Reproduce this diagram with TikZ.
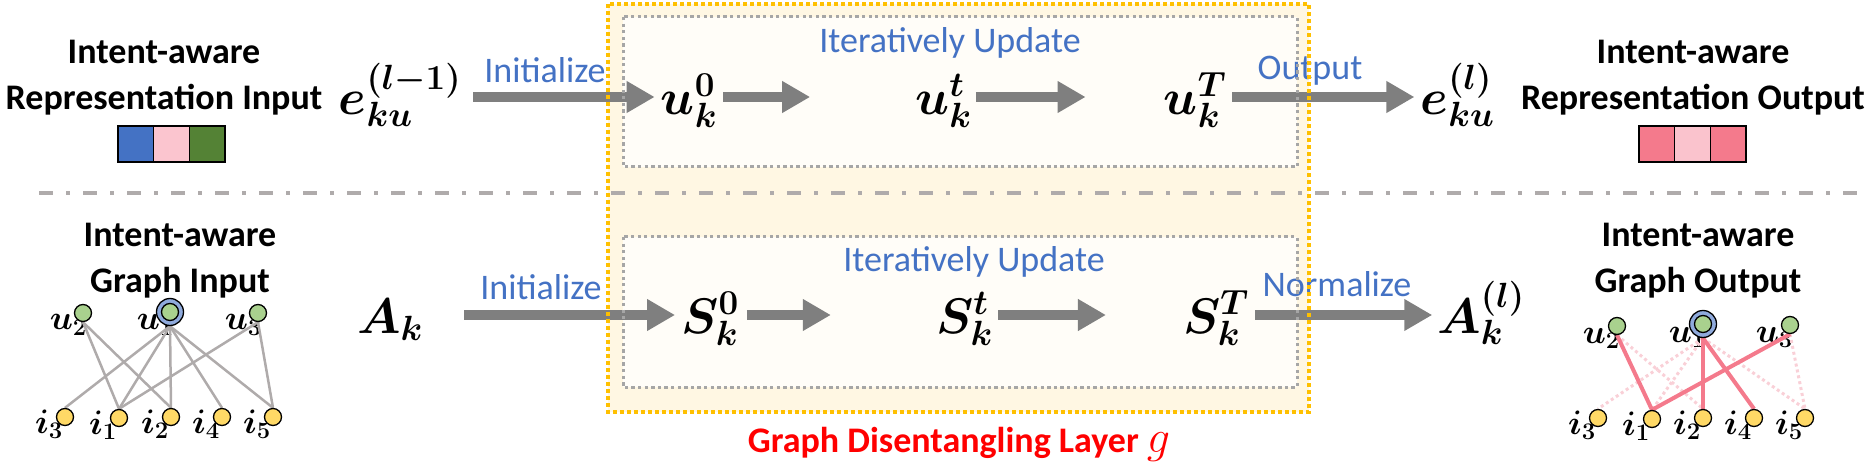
\RequirePackage{fix-cm}
\documentclass[tikz,border=0pt]{standalone}
\usepackage{amsmath}
\usepackage{bm}
\usepackage{fontspec}
\setmainfont{Carlito}
\usetikzlibrary{arrows.meta}
\pgfdeclarelayer{back}\pgfdeclarelayer{labs}\pgfdeclarelayer{edges}\pgfdeclarelayer{front}
\pgfsetlayers{back,labs,edges,main,front}
\definecolor{arrowgray}{HTML}{7F7F7F}
\definecolor{sepgray}{HTML}{AFABAB}
\definecolor{boxgray}{HTML}{A6A6A6}
\definecolor{ygold}{HTML}{FFC000}
\definecolor{yfill}{HTML}{FFF7E3}
\definecolor{ifill}{HTML}{FFFDF8}
\definecolor{iblue}{HTML}{4472C4}
\definecolor{sqblue}{HTML}{4472C4}
\definecolor{sqpink}{HTML}{FBC5CF}
\definecolor{sqgreen}{HTML}{548235}
\definecolor{salmon}{HTML}{F47A8C}
\definecolor{lpink}{HTML}{FAC3CD}
\definecolor{dotpink}{HTML}{F9D0D7}
\definecolor{ugreen}{HTML}{A9D18E}
\definecolor{iyellow}{HTML}{FFD966}
\definecolor{ringblue}{HTML}{8FAADC}
\definecolor{edgegray}{HTML}{AFABAB}
\tikzset{
  blacktxt/.style={font=\fontsize{36}{46}\selectfont\bfseries, align=center, inner sep=0, anchor=base},
  bluetxt/.style={font=\fontsize{36}{40}\selectfont, text=iblue, inner sep=0, anchor=base},
  redtxt/.style={font=\fontsize{36}{40}\selectfont\bfseries, text=red, inner sep=0, anchor=base},
  mnode/.style={font=\fontsize{50}{54}\selectfont, inner sep=0, text height=44pt, text depth=8pt, anchor=center},
  bigarrow/.style={draw=arrowgray, line width=10pt, -{Triangle[length=28pt,width=30pt]}},
  sq/.style={draw=black, line width=1.5pt, minimum width=35.7pt, minimum height=36pt, inner sep=0},
  unode/.style={circle, draw=black, line width=1.3pt, fill=ugreen, minimum size=17pt, inner sep=0},
  ringnode/.style={circle, draw=black, line width=1.3pt, fill=ringblue, minimum size=27pt, inner sep=0},
  inode/.style={circle, draw=black, line width=1.3pt, fill=iyellow, minimum size=17pt, inner sep=0},
  glab/.style={font=\fontsize{34}{36}\selectfont, inner sep=0, anchor=base east},
  gedge/.style={draw=edgegray, line width=2.5pt},
  pedge/.style={draw=salmon, line width=4pt},
  dedge/.style={draw=dotpink, line width=3pt, dash pattern=on 3pt off 3pt},
  ybox/.style={draw=ygold, line width=4pt, dash pattern=on 4pt off 3pt},
  gbox/.style={draw=boxgray, line width=3pt, dash pattern=on 3.3pt off 3.3pt},
}
\begin{document}
\begin{tikzpicture}[x=1pt,y=-1pt]
\useasboundingbox (0,0) rectangle (1871,470);
% box fills
\begin{pgfonlayer}{back}
\fill[yfill] (608,4) rectangle (1309,412);
\fill[ifill] (623,17) rectangle (1297,167);
\fill[ifill] (623,237) rectangle (1297,387);
\draw[sepgray, line width=3.5pt, dash pattern=on 14pt off 13pt on 4pt off 13pt] (39,193) -- (1863,193);
\end{pgfonlayer}

% side labels (anchor = baseline of last line)
\node[blacktxt] (tl) at (164,110) {Intent-aware\\Representation Input};
\node[blacktxt] (tr) at (1693,110) {Intent-aware\\Representation Output};
\node[blacktxt] (bl) at (180,293) {Intent-aware\\Graph Input};
\node[blacktxt] (br) at (1698,293) {Intent-aware\\Graph Output};

% squares
\node[sq, fill=sqblue] (s1) at (135.8,144) {};
\node[sq, fill=sqpink] (s2) at (171.5,144) {};
\node[sq, fill=sqgreen] (s3) at (207.2,144) {};
\node[sq, fill=salmon] (r1) at (1656.8,144) {};
\node[sq, fill=lpink] (r2) at (1692.5,144) {};
\node[sq, fill=salmon] (r3) at (1728.2,144) {};

% math nodes top row
\node[mnode, minimum width=110pt] (ein) at (400,97) {$\bm{e_{ku}^{(l-1)}}$};
\node[mnode, minimum width=52pt] (u0) at (689,97) {$\bm{u_k^0}$};
\node[mnode, minimum width=53pt] (ut) at (943.5,97) {$\bm{u_k^t}$};
\node[mnode, minimum width=50pt] (uT) at (1195,97) {$\bm{u_k^T}$};
\node[mnode, minimum width=69pt] (eout) at (1457.5,97) {$\bm{e_{ku}^{(l)}}$};
% bottom row
\node[mnode, minimum width=54pt] (Ak) at (390,315) {$\bm{A_k}$};
\node[mnode, minimum width=46pt] (S0) at (710,315) {$\bm{S_k^0}$};
\node[mnode, minimum width=49pt] (St) at (964.5,315) {$\bm{S_k^t}$};
\node[mnode, minimum width=48pt] (ST) at (1216,315) {$\bm{S_k^T}$};
\node[mnode, minimum width=72pt] (Aout) at (1481,315) {$\bm{A_k^{(l)}}$};

% arrows
\draw[bigarrow, shorten <=12pt, shorten >=6pt] (ein.east) -- (u0.west);
\draw[bigarrow, shorten <=6pt, shorten >=105pt] (u0.east) -- (ut.west);
\draw[bigarrow, shorten <=4pt, shorten >=78pt] (ut.east) -- (uT.west);
\draw[bigarrow, shorten <=6pt, shorten >=6pt] (uT.east) -- (eout.west);
\draw[bigarrow, shorten <=41pt, shorten >=6pt] (Ak.east) -- (S0.west);
\draw[bigarrow, shorten <=8pt, shorten >=105pt] (S0.east) -- (St.west);
\draw[bigarrow, shorten <=5pt, shorten >=77pt] (St.east) -- (ST.west);
\draw[bigarrow, shorten <=6pt, shorten >=5pt] (ST.east) -- (Aout.west);

% blue labels
\node[bluetxt] (init1) at (545,83) {Initialize};
\node[bluetxt] (init2) at (541,300) {Initialize};
\node[bluetxt] (iter1) at (950,53) {Iteratively Update};
\node[bluetxt] (iter2) at (974,272) {Iteratively Update};
\node[bluetxt] (outl) at (1310,80) {Output};
\node[bluetxt] (norml) at (1337,297) {Normalize};
\node[redtxt] (layer) at (959,452) {Graph Disentangling Layer {\normalfont\fontsize{46}{40}\selectfont$g$}};

% left graph
\node[unode] (lu2) at (83,313) {};
\node[ringnode] (lu1r) at (170,312) {};
\node[unode] (lu1) at (170,312) {};
\node[unode] (lu3) at (258,313) {};
\node[inode] (li3) at (65,417) {};
\node[inode] (li1) at (119,418) {};
\node[inode] (li2) at (171,417) {};
\node[inode] (li4) at (222,417) {};
\node[inode] (li5) at (273,417) {};
\begin{pgfonlayer}{labs}
\node[glab] (llu2) at (87,330) {$\bm{u_2}$};
\node[glab] (llu1) at (174,330) {$\bm{u_1}$};
\node[glab] (llu3) at (262,330) {$\bm{u_3}$};
\node[glab] (lli3) at (63,433) {$\bm{i_3}$};
\node[glab] (lli1) at (117,434) {$\bm{i_1}$};
\node[glab] (lli2) at (169,433) {$\bm{i_2}$};
\node[glab] (lli4) at (220,433) {$\bm{i_4}$};
\node[glab] (lli5) at (271,433) {$\bm{i_5}$};
\end{pgfonlayer}
\begin{pgfonlayer}{edges}
\draw[gedge] (lu2.south) -- (li1.north);
\draw[gedge] (lu2.south) -- (li2.north);
\draw[gedge] (lu1r.south) -- (li3.north);
\draw[gedge] (lu1r.south) -- (li1.north);
\draw[gedge] (lu1r.south) -- (li2.north);
\draw[gedge] (lu1r.south) -- (li4.north);
\draw[gedge] (lu1r.south) -- (li5.north);
\draw[gedge] (lu3.south) -- (li1.north);
\draw[gedge] (lu3.south) -- (li5.north);
\end{pgfonlayer}

% right graph
\node[unode] (ru2) at (1617,326) {};
\node[ringnode] (ru1r) at (1703,324) {};
\node[unode] (ru1) at (1703,324) {};
\node[unode] (ru3) at (1790,325) {};
\node[inode] (ri3) at (1598,418) {};
\node[inode] (ri1) at (1652,419) {};
\node[inode] (ri2) at (1703,418) {};
\node[inode] (ri4) at (1754,418) {};
\node[inode] (ri5) at (1805,418) {};
\begin{pgfonlayer}{labs}
\node[glab] (lru2) at (1620,343) {$\bm{u_2}$};
\node[glab] (lru1) at (1706,342) {$\bm{u_1}$};
\node[glab] (lru3) at (1793,342) {$\bm{u_3}$};
\node[glab] (lri3) at (1596,434) {$\bm{i_3}$};
\node[glab] (lri1) at (1650,435) {$\bm{i_1}$};
\node[glab] (lri2) at (1701,434) {$\bm{i_2}$};
\node[glab] (lri4) at (1752,434) {$\bm{i_4}$};
\node[glab] (lri5) at (1803,434) {$\bm{i_5}$};
\end{pgfonlayer}
\begin{pgfonlayer}{edges}
\draw[dedge] (ru2.south) -- (ri2.north);
\draw[dedge] (ru1r.south) -- (ri3.north);
\draw[dedge] (ru1r.south) -- (ri1.north);
\draw[dedge] (ru1r.south) -- (ri5.north);
\draw[dedge] (ru3.south) -- (ri5.north);
\draw[pedge] (ru2.south) -- (ri1.north);
\draw[pedge] (ru1r.south) -- (ri2.north);
\draw[pedge] (ru1r.south) -- (ri4.north);
\draw[pedge] (ru3.south) -- (ri1.north);
\end{pgfonlayer}

% box borders on top
\begin{pgfonlayer}{front}
\draw[gbox] (623,17) rectangle (1297,167);
\draw[gbox] (623,237) rectangle (1297,387);
\draw[ybox] (608,4) rectangle (1309,412);
\end{pgfonlayer}
\end{tikzpicture}
\end{document}
